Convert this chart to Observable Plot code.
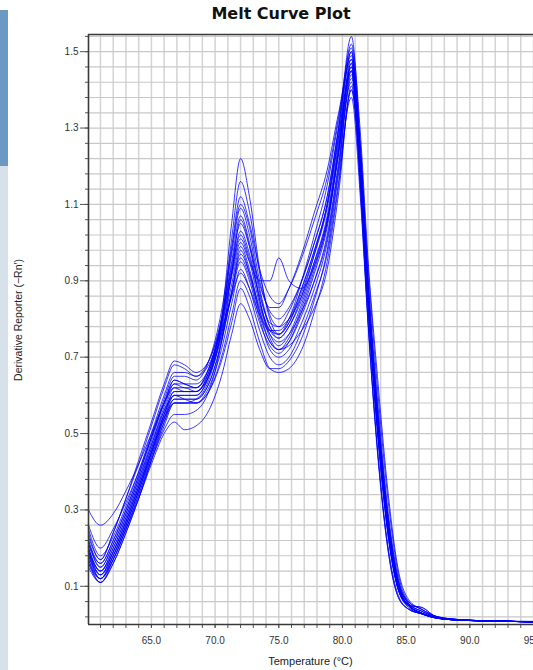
<!DOCTYPE html>
<html>
<head>
<meta charset="utf-8">
<script src="https://cdn.jsdelivr.net/npm/d3@7"></script>
<script src="https://cdn.jsdelivr.net/npm/@observablehq/plot@0.6"></script>
<style>
  html, body { margin: 0; padding: 0; background: #fff; overflow: hidden; }
  #wrap { position: relative; width: 533px; height: 670px; overflow: hidden; }
  #chart { position: absolute; left: 0; top: 0; }
  .ov { position: absolute; white-space: nowrap; color: #111; }
</style>
</head>
<body>
<div id="wrap">
  <div id="chart"></div>
  <div style="position:absolute;left:0;top:10px;width:8px;height:156px;background:#6b99c4"></div>
  <div style="position:absolute;left:0;top:166px;width:8px;height:504px;background:#d6e1ea"></div>
  <div class="ov" style="left:0;top:6px;width:562px;text-align:center;font:bold 16px/16px 'DejaVu Sans',sans-serif;">Melt Curve Plot</div>
  <div class="ov" style="left:0;top:656px;width:621px;text-align:center;font:11px/11px 'Liberation Sans',Arial,sans-serif;color:#222;">Temperature (°C)</div>
  <div class="ov" style="left:18px;top:320px;transform:translate(-50%,-50%) rotate(-90deg);font:10.5px/11px 'Liberation Sans',Arial,sans-serif;color:#222;">Derivative Reporter (−Rn′)</div>
</div>
<script>
const temps = [60.06, 61, 62, 63, 64, 65, 66, 66.8, 67.6, 68.5, 69.5, 70.5, 71.3, 72, 72.7, 73.5, 74.3, 75, 75.8, 76.8, 77.8, 78.8, 79.7, 80.7, 81.4, 82, 82.8, 83.6, 84.4, 85.2, 86.2, 87.5, 89.5, 92, 95];

const well01 = [0.22,0.15,0.21,0.29,0.38,0.47, 0.56,0.60,0.60,0.60,0.65,0.80, 1.05,1.22,1.12,0.93,0.80,0.76, 0.79,0.88,0.98,1.10,1.28,1.50, 1.22,0.88,0.52,0.25,0.10,0.05, 0.03,0.017,0.011,0.009,0.007];
const well02 = [0.20,0.13,0.19,0.27,0.36,0.45, 0.54,0.58,0.58,0.59,0.64,0.78, 1.01,1.16,1.08,0.92,0.81,0.78, 0.80,0.86,0.95,1.06,1.24,1.47, 1.15,0.80,0.44,0.19,0.07,0.04, 0.028,0.016,0.011,0.009,0.007];
const well03 = [0.30,0.26,0.29,0.35,0.42,0.50, 0.58,0.62,0.61,0.61,0.66,0.79, 0.98,1.10,1.04,0.90,0.82,0.80, 0.83,0.90,1.00,1.12,1.30,1.52, 1.29,0.96,0.63,0.34,0.14,0.065, 0.04,0.02,0.012,0.009,0.008];
const well04 = [0.26,0.20,0.25,0.32,0.40,0.49, 0.58,0.63,0.62,0.62,0.67,0.80, 0.97,1.09,1.02,0.88,0.78,0.75, 0.78,0.86,0.97,1.10,1.30,1.54, 1.26,0.90,0.53,0.26,0.10,0.05, 0.03,0.018,0.012,0.009,0.007];
const well05 = [0.19,0.12,0.18,0.26,0.35,0.45, 0.55,0.61,0.61,0.61,0.66,0.79, 0.95,1.07,1.00,0.87,0.78,0.76, 0.80,0.90,1.02,1.15,1.32,1.49, 1.20,0.85,0.49,0.23,0.09,0.05, 0.045,0.018,0.011,0.009,0.007];
const well06 = [0.21,0.15,0.21,0.29,0.38,0.48, 0.58,0.64,0.63,0.62,0.67,0.79, 0.94,1.05,0.99,0.89,0.83,0.83, 0.88,0.97,1.08,1.19,1.34,1.48, 1.24,0.91,0.57,0.29,0.12,0.055, 0.03,0.017,0.011,0.009,0.007];
const well07 = [0.17,0.11,0.17,0.25,0.34,0.44, 0.54,0.60,0.60,0.60,0.65,0.77, 0.92,1.03,0.97,0.85,0.76,0.73, 0.76,0.84,0.94,1.06,1.25,1.46, 1.19,0.85,0.49,0.23,0.09,0.045, 0.028,0.016,0.011,0.009,0.007];
const well08 = [0.24,0.17,0.24,0.33,0.43,0.53, 0.63,0.69,0.68,0.66,0.69,0.80, 0.93,1.02,0.96,0.86,0.79,0.78, 0.82,0.90,1.00,1.12,1.30,1.50, 1.24,0.90,0.55,0.28,0.11,0.055, 0.035,0.019,0.012,0.009,0.007];
const well09 = [0.20,0.14,0.20,0.28,0.37,0.47, 0.57,0.63,0.63,0.63,0.67,0.78, 0.91,1.00,0.95,0.90,0.90,0.96, 0.90,0.88,0.94,1.05,1.24,1.45, 1.19,0.85,0.50,0.24,0.09,0.05, 0.03,0.017,0.011,0.009,0.007];
const well10 = [0.18,0.12,0.18,0.26,0.35,0.45, 0.55,0.61,0.61,0.61,0.65,0.76, 0.89,0.99,0.93,0.82,0.74,0.72, 0.75,0.83,0.93,1.05,1.24,1.47, 1.21,0.87,0.51,0.25,0.10,0.05, 0.03,0.017,0.011,0.009,0.007];
const well11 = [0.16,0.11,0.16,0.24,0.33,0.43, 0.53,0.59,0.59,0.59,0.63,0.74, 0.87,0.97,0.92,0.83,0.77,0.76, 0.79,0.87,0.97,1.09,1.27,1.45, 1.14,0.80,0.44,0.20,0.075,0.04, 0.028,0.016,0.011,0.009,0.007];
const well12 = [0.22,0.16,0.22,0.30,0.39,0.49, 0.58,0.64,0.63,0.62,0.66,0.76, 0.87,0.96,0.91,0.82,0.76,0.74, 0.76,0.82,0.90,1.01,1.20,1.43, 1.25,0.94,0.60,0.32,0.13,0.06, 0.04,0.02,0.012,0.009,0.007];
const well13 = [0.19,0.13,0.19,0.27,0.36,0.46, 0.56,0.62,0.62,0.61,0.65,0.75, 0.86,0.95,0.90,0.80,0.72,0.70, 0.72,0.79,0.88,1.00,1.19,1.44, 1.19,0.86,0.51,0.25,0.10,0.05, 0.03,0.017,0.011,0.009,0.007];
const well14 = [0.15,0.11,0.16,0.24,0.33,0.43, 0.52,0.58,0.58,0.58,0.62,0.72, 0.84,0.93,0.88,0.79,0.73,0.71, 0.74,0.82,0.92,1.04,1.23,1.42, 1.16,0.83,0.48,0.23,0.09,0.045, 0.028,0.016,0.011,0.009,0.007];
const well15 = [0.23,0.17,0.24,0.33,0.42,0.52, 0.62,0.68,0.67,0.65,0.68,0.77, 0.86,0.92,0.88,0.81,0.77,0.77, 0.80,0.88,0.98,1.10,1.28,1.46, 1.21,0.87,0.52,0.26,0.10,0.05, 0.045,0.018,0.011,0.009,0.007];
const well16 = [0.18,0.13,0.18,0.26,0.35,0.44, 0.53,0.58,0.58,0.58,0.61,0.70, 0.81,0.90,0.86,0.77,0.70,0.68, 0.70,0.77,0.86,0.97,1.16,1.40, 1.17,0.85,0.50,0.25,0.10,0.05, 0.03,0.017,0.011,0.009,0.007];
const well17 = [0.20,0.14,0.20,0.28,0.37,0.46, 0.55,0.60,0.59,0.58,0.61,0.69, 0.79,0.88,0.83,0.74,0.67,0.66, 0.67,0.72,0.82,0.95,1.15,1.40, 1.18,0.87,0.53,0.27,0.11,0.055, 0.035,0.019,0.012,0.009,0.007];
const well18 = [0.17,0.12,0.17,0.25,0.33,0.42, 0.50,0.53,0.51,0.52,0.56,0.65, 0.76,0.84,0.80,0.72,0.67,0.67, 0.69,0.75,0.85,0.98,1.18,1.38, 1.12,0.79,0.43,0.19,0.07,0.04, 0.028,0.016,0.011,0.009,0.007];
const well19 = [0.21,0.16,0.22,0.30,0.39,0.49, 0.59,0.65,0.65,0.64,0.69,0.82, 0.99,1.12,1.05,0.93,0.86,0.84, 0.88,0.96,1.06,1.17,1.33,1.51, 1.24,0.89,0.54,0.27,0.11,0.06, 0.04,0.02,0.012,0.009,0.008];
const well20 = [0.16,0.12,0.17,0.25,0.34,0.43, 0.51,0.55,0.55,0.56,0.61,0.74, 0.92,1.06,0.99,0.85,0.75,0.72, 0.74,0.81,0.90,1.02,1.21,1.45, 1.20,0.86,0.50,0.24,0.09,0.05, 0.03,0.017,0.011,0.009,0.007];
const well21 = [0.25,0.18,0.23,0.31,0.40,0.50, 0.60,0.66,0.66,0.65,0.69,0.79, 0.92,1.01,0.95,0.84,0.77,0.75, 0.78,0.85,0.95,1.07,1.26,1.48, 1.23,0.89,0.54,0.27,0.11,0.055, 0.035,0.019,0.012,0.009,0.007];
const well22 = [0.19,0.14,0.19,0.27,0.36,0.45, 0.54,0.59,0.59,0.59,0.63,0.74, 0.87,0.98,0.92,0.81,0.74,0.72, 0.73,0.77,0.83,0.93,1.13,1.41, 1.19,0.86,0.51,0.25,0.10,0.05, 0.03,0.017,0.011,0.009,0.007];

const xTickLabels = [65, 70, 75, 80, 85, 90, 95];
const yTickLabels = [0.1, 0.3, 0.5, 0.7, 0.9, 1.1, 1.3, 1.5];
const xGridLines = [61,62,63,64,65,66,67,68,69,70,71,72,73,74,75,76,77,78,79,80,81,82,83,84,85,86,87,88,89,90,91,92,93,94,95];
const yGridLines = d3.range(0, 39).map(i => +(0.02 + i * 0.04).toFixed(2));

const wells = [well01, well02, well03, well04, well05, well06, well07, well08, well09, well10, well11,
               well12, well13, well14, well15, well16, well17, well18, well19, well20, well21, well22];
const rows = wells.flatMap((w, k) => w.map((v, j) => ({well: k, t: temps[j], v})));

const xMin = 60.06, xMax = 95.0, yMin = 0, yMax = 1.545;

const chart = Plot.plot({
  width: 533,
  height: 670,
  marginLeft: 88,
  marginRight: 0,
  marginTop: 34,
  marginBottom: 46,
  style: {fontFamily: "'Liberation Sans', Arial, sans-serif", fontSize: "10px", color: "#333", background: "#fff", overflow: "visible"},
  x: {domain: [xMin, xMax], label: null},
  y: {domain: [yMin, yMax], label: null},
  marks: [
    Plot.gridX(xGridLines, {stroke: "#d4d4d4", strokeOpacity: 1, strokeWidth: 1.5}),
    Plot.gridY(yGridLines, {stroke: "#c9c9c9", strokeOpacity: 1, strokeWidth: 1.2}),
    Plot.line(rows, {x: "t", y: "v", z: "well", stroke: "#0000ff", strokeOpacity: 0.78, strokeWidth: 1, curve: "monotone-x"}),
    Plot.axisX(xGridLines, {tickSize: 4, tickFormat: () => "", stroke: "#555", label: null}),
    Plot.axisX(xTickLabels, {tickSize: 4, tickPadding: 8, tickFormat: d => d.toFixed(1), stroke: "#555", fill: "#333", label: null}),
    Plot.axisY(yGridLines, {tickSize: 3, tickFormat: () => "", stroke: "#555", label: null}),
    Plot.axisY(yTickLabels, {tickSize: 8, tickPadding: 2, tickFormat: d => d.toFixed(1), stroke: "#555", fill: "#333", label: null}),
    Plot.ruleX([xMin], {stroke: "#3a3a3a", strokeWidth: 1.6}),
    Plot.ruleY([yMin], {stroke: "#3a3a3a", strokeWidth: 1.6}),
    Plot.ruleY([yMax], {stroke: "#3a3a3a", strokeWidth: 1.6})
  ]
});
document.getElementById("chart").appendChild(chart);
</script>
</body>
</html>
